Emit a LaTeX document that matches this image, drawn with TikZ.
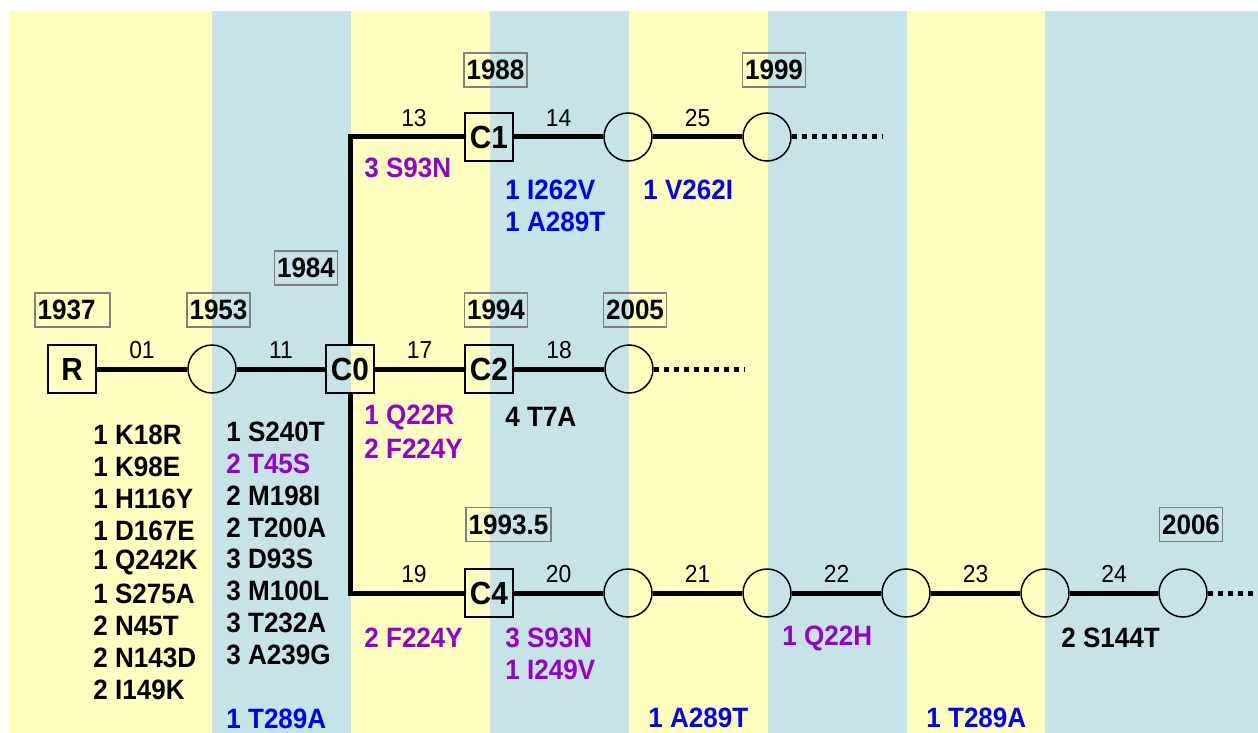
\documentclass[tikz,border=0pt]{standalone}
\usepackage{fontspec}
\setmainfont[FakeStretch=0.93]{Liberation Sans}
\definecolor{bandY}{RGB}{255,255,192}
\definecolor{bandB}{RGB}{198,228,232}
\definecolor{purp}{RGB}{150,0,200}
\definecolor{blu}{RGB}{0,0,235}
\definecolor{ybord}{RGB}{128,128,128}
\begin{document}
\begin{tikzpicture}[x=0.5pt,y=-0.5pt,
  sqbox/.style={draw,line width=0.75pt,minimum size=24pt,inner sep=0pt,font=\fontsize{16}{18}\selectfont\bfseries},
  circ/.style={circle,draw,line width=0.75pt,minimum size=24pt,inner sep=0pt},
  yearbox/.style={draw=ybord,line width=0.75pt,inner sep=1.3pt,minimum height=17pt,font=\fontsize{14}{16}\selectfont\bfseries},
  mut/.style={anchor=west,inner sep=0pt,font=\fontsize{14}{16}\selectfont\bfseries},
  edge/.style={line width=2.5pt},
  dotline/.style={line width=2.5pt,dash pattern=on 2.5pt off 2.5pt},
  elab/.style={above=3pt,inner sep=1pt,font=\fontsize{12.3}{14}\selectfont}]
\useasboundingbox (0,0) rectangle (1258,733);
\fill[white] (0,0) rectangle (1258,733);
\fill[bandY] (9,11) rectangle (212,733);
\fill[bandB] (212,11) rectangle (351,733);
\fill[bandY] (351,11) rectangle (490,733);
\fill[bandB] (490,11) rectangle (629,733);
\fill[bandY] (629,11) rectangle (768,733);
\fill[bandB] (768,11) rectangle (907,733);
\fill[bandY] (907,11) rectangle (1045,733);
\fill[bandB] (1045,11) rectangle (1258,733);

% nodes
\node[sqbox] (R) at (72,369) {R};
\node[circ] (n1) at (212,369) {};
\node[sqbox] (C0) at (350,369) {C0};
\node[sqbox] (C2) at (489,369) {C2};
\node[circ] (n2) at (629,369) {};
\coordinate (e2) at (745,369);
\node[sqbox] (C1) at (489,137) {C1};
\node[circ] (n3) at (628,137) {};
\node[circ] (n4) at (767,137) {};
\coordinate (e1) at (882,137);
\node[sqbox] (C4) at (489,593) {C4};
\node[circ] (n5) at (628,593) {};
\node[circ] (n6) at (767,593) {};
\node[circ] (n7) at (906,593) {};
\node[circ] (n8) at (1045,593) {};
\node[circ] (n9) at (1183,593) {};
\coordinate (e3) at (1253,593);

% edges
\draw[edge] (R) -- node[elab]{01} (n1);
\draw[edge] (n1) -- node[elab]{11} (C0);
\draw[edge] (C0) -- node[elab]{17} (C2);
\draw[edge] (C2) -- node[elab]{18} (n2);
\draw[dotline] (n2) -- (e2);
\draw[edge] (C0) |- node[elab,pos=0.78]{13} (C1);
\draw[edge] (C1) -- node[elab]{14} (n3);
\draw[edge] (n3) -- node[elab]{25} (n4);
\draw[dotline] (n4) -- (e1);
\draw[edge] (C0) |- node[elab,pos=0.78]{19} (C4);
\draw[edge] (C4) -- node[elab]{20} (n5);
\draw[edge] (n5) -- node[elab]{21} (n6);
\draw[edge] (n6) -- node[elab]{22} (n7);
\draw[edge] (n7) -- node[elab]{23} (n8);
\draw[edge] (n8) -- node[elab]{24} (n9);
\draw[dotline] (n9) -- (e3);

% year boxes
\node[yearbox] (y1937) at (72.5,310) {\makebox[34.9pt][l]{1937}};
\node[yearbox] (y1953) at (218.5,310) {1953};
\node[yearbox] (y1984) at (306,268) {1984};
\node[yearbox] (y1988) at (495.5,70) {1988};
\node[yearbox] (y1999) at (774,70) {1999};
\node[yearbox] (y1994) at (496,310) {1994};
\node[yearbox] (y2005) at (635,310) {2005};
\node[yearbox] (y1993) at (508.5,524.5) {1993.5};
\node[yearbox] (y2006) at (1191,524.5) {2006};

% mutations under R
\foreach \t [count=\i] in {1 K18R,1 K98E,1 H116Y,1 D167E,1 Q242K,1 S275A,2 N45T,2 N143D,2 I149K}
  \node[mut] (a\i) at (93,{435+31.8*(\i-1)}) {\t};
% mutations on edge 11
\node[mut] (b1) at (226,432) {1 S240T};
\node[mut,text=purp] (b2) at (226,463.8) {2 T45S};
\node[mut] (b3) at (226,495.6) {2 M198I};
\node[mut] (b4) at (226,527.4) {2 T200A};
\node[mut] (b5) at (226,559.2) {3 D93S};
\node[mut] (b6) at (226,591) {3 M100L};
\node[mut] (b7) at (226,622.8) {3 T232A};
\node[mut] (b8) at (226,654.6) {3 A239G};
\node[mut,text=blu] (b9) at (226,719) {1 T289A};
% others
\node[mut,text=purp] (c1) at (364,417) {1 Q22R};
\node[mut,text=purp] (c2) at (364,449) {2 F224Y};
\node[mut] (d1) at (505,417) {4 T7A};
\node[mut,text=purp] (f1) at (364,168) {3 S93N};
\node[mut,text=blu] (g1) at (505,190) {1 I262V};
\node[mut,text=blu] (g2) at (505,222) {1 A289T};
\node[mut,text=blu] (h1) at (643,190) {1 V262I};
\node[mut,text=purp] (k1) at (364,638) {2 F224Y};
\node[mut,text=purp] (k2) at (505,638) {3 S93N};
\node[mut,text=purp] (k3) at (505,670) {1 I249V};
\node[mut,text=blu] (k4) at (648,718) {1 A289T};
\node[mut,text=purp] (k5) at (782,638) {1 Q22H};
\node[mut,text=blu] (k6) at (926,718) {1 T289A};
\node[mut] (k7) at (1061,638) {2 S144T};
\end{tikzpicture}
\end{document}
